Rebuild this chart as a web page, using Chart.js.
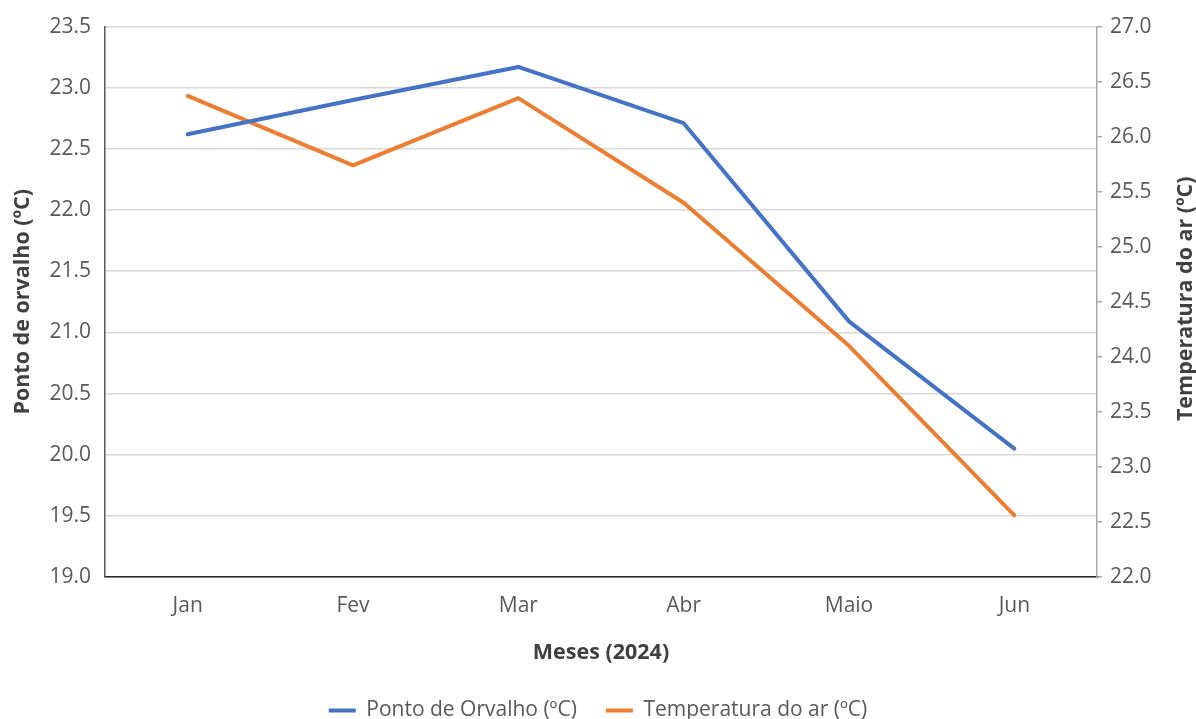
<!DOCTYPE html>
<html>
<head>
<meta charset="utf-8">
<script src="https://cdn.jsdelivr.net/npm/chart.js@4"></script>
<style>
html,body{margin:0;padding:0;background:#fff;}
#wrap{position:relative;width:1196px;height:719px;}
</style>
</head>
<body>
<div id="wrap"><canvas id="c" width="1196" height="719"></canvas></div>
<script>
const categories = ['Jan', 'Fev', 'Mar', 'Abr', 'Maio', 'Jun'];
const pontoOrvalho = [22.62, 22.90, 23.17, 22.71, 21.09, 20.05];
const temperaturaAr = [26.37, 25.74, 26.35, 25.40, 24.10, 22.56];
const leftTicks = [19.0, 23.5, 0.5];
const rightTicks = [22.0, 27.0, 0.5];
const rightTitle = 'Temperatura do ar (ºC)';

const FONT = '"Open Sans", "Noto Sans", sans-serif';
const tickColor = '#595959';
const titleColor = '#404040';

const rightTitlePlugin = {
  id: 'rightTitle',
  afterDraw(chart) {
    const ctx = chart.ctx;
    const a = chart.chartArea;
    ctx.save();
    ctx.translate(1186, (a.top + a.bottom) / 2 - 3);
    ctx.rotate(-Math.PI / 2);
    ctx.font = 'bold 21.5px ' + FONT;
    ctx.fillStyle = titleColor;
    ctx.textAlign = 'center';
    ctx.textBaseline = 'middle';
    ctx.fillText(rightTitle, 0, 0);
    ctx.restore();
  }
};

new Chart(document.getElementById('c'), {
  type: 'line',
  data: {
    labels: categories,
    datasets: [
      {
        label: 'Ponto de Orvalho (ºC)',
        data: pontoOrvalho,
        yAxisID: 'y',
        borderColor: '#4472C4',
        backgroundColor: '#4472C4',
        borderWidth: 4,
        pointRadius: 0,
        tension: 0,
        fill: false,
        borderCapStyle: 'round',
        borderJoinStyle: 'round'
      },
      {
        label: 'Temperatura do ar (ºC)',
        data: temperaturaAr,
        yAxisID: 'y1',
        borderColor: '#ED7D31',
        backgroundColor: '#ED7D31',
        borderWidth: 4,
        pointRadius: 0,
        tension: 0,
        fill: false,
        borderCapStyle: 'round',
        borderJoinStyle: 'round'
      }
    ]
  },
  plugins: [rightTitlePlugin],
  options: {
    responsive: false,
    animation: false,
    layout: { padding: { top: 25, left: 0, right: 0, bottom: -12 } },
    plugins: {
      tooltip: { enabled: false },
      legend: {
        position: 'bottom',
        labels: {
          font: { family: FONT, size: 21 },
          color: tickColor,
          boxWidth: 27,
          boxHeight: 4,
          padding: 29,
          generateLabels: (chart) => {
            const items = Chart.defaults.plugins.legend.labels.generateLabels(chart);
            items.forEach(it => { it.lineWidth = 0; it.fillStyle = it.strokeStyle; });
            return items;
          }
        }
      }
    },
    scales: {
      x: {
        offset: true,
        grid: { display: false, drawTicks: false },
        border: { display: true, color: '#262626', width: 1.5 },
        ticks: { font: { family: FONT, size: 21 }, color: tickColor, padding: 16 },
        title: {
          display: true,
          text: 'Meses (2024)',
          font: { family: FONT, size: 21.5, weight: 'bold', lineHeight: 1 },
          color: titleColor,
          padding: { top: 0, bottom: 7 }
        },
        afterFit: (s) => { s.height = 94; }
      },
      y: {
        position: 'left',
        min: leftTicks[0],
        max: leftTicks[1],
        ticks: {
          stepSize: leftTicks[2],
          font: { family: FONT, size: 21 },
          color: tickColor,
          padding: 14,
          callback: (v) => Number(v).toFixed(1)
        },
        grid: { color: '#d9d9d9', lineWidth: 1.5, drawTicks: false },
        border: { display: true, color: '#595959', width: 1.5 },
        title: {
          display: true,
          text: 'Ponto de orvalho (ºC)',
          font: { family: FONT, size: 21.5, weight: 'bold', lineHeight: 1 },
          color: titleColor,
          padding: { top: 12, bottom: 0 }
        },
        afterFit: (s) => { s.width = 105; }
      },
      y1: {
        position: 'right',
        min: rightTicks[0],
        max: rightTicks[1],
        ticks: {
          stepSize: rightTicks[2],
          font: { family: FONT, size: 21 },
          color: tickColor,
          padding: 8,
          callback: (v) => Number(v).toFixed(1)
        },
        grid: { display: true, drawOnChartArea: false, drawTicks: true, tickLength: 5, tickColor: '#a6a6a6', lineWidth: 1.5 },
        border: { display: true, color: '#a6a6a6', width: 1.5 },
        title: { display: false },
        afterFit: (s) => { s.width = 99; }
      }
    }
  }
});
</script>
</body>
</html>
